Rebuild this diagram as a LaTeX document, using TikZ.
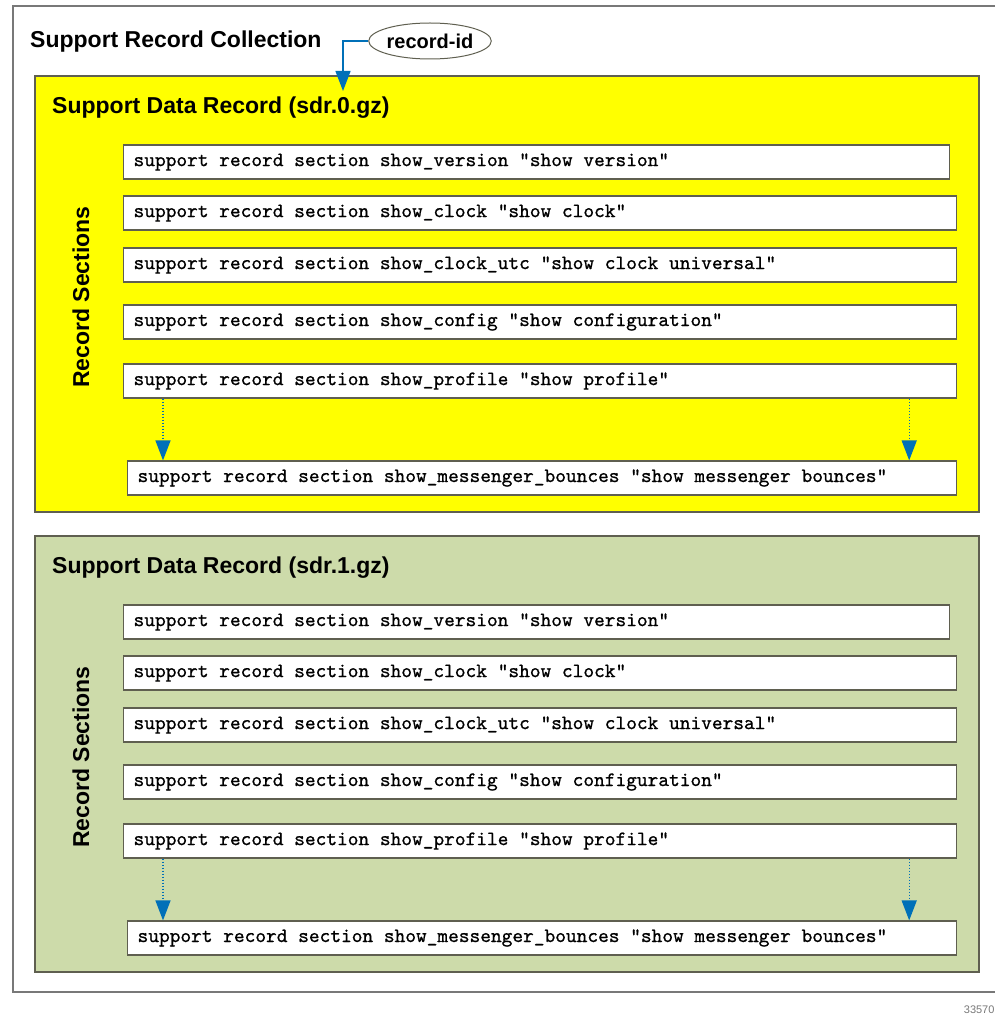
\documentclass[tikz,border=0pt]{standalone}
\usepackage{fontspec}
\setmainfont{Liberation Sans}
\newfontfamily\sectmono{lmmono10-regular.otf}[FakeBold=0.8]
\usetikzlibrary{shapes.geometric,arrows.meta}
\definecolor{sdryellow}{RGB}{255,255,0}
\definecolor{sdrgreen}{RGB}{205,219,170}
\definecolor{linkblue}{RGB}{0,112,184}
\definecolor{boxline}{RGB}{95,95,80}
\definecolor{framegray}{RGB}{120,120,120}

\begin{document}
\begin{tikzpicture}[x=1pt, y=-1pt,
		heading/.style={font=\fontsize{23}{27}\selectfont\bfseries, anchor=west, inner sep=0pt},
		recbox/.style={draw=boxline, line width=1.2pt, minimum width=944pt, minimum height=436pt, inner sep=0pt},
		section/.style={draw=boxline, line width=1.2pt, fill=white, anchor=west, minimum height=34pt, inner xsep=10pt, inner ysep=0pt, align=left, font=\sectmono\fontsize{20.4}{22}\selectfont, execute at begin node={\spaceskip=0.525em\relax}},
		link/.style={linkblue, line width=1.3pt, -{Triangle[length=20pt, width=15pt]}},
		dots/.style={dash pattern=on 1.5pt off 1.5pt}]
		\useasboundingbox (0,0) rectangle (995,1019);

		% Frame
		\draw[framegray, line width=1.2pt] (995,6) -- (13,6) -- (13,992) -- (995,992);

		% Title
		\node[heading] (title) at (30,42) {Support Record Collection};
		\node[draw=boxline, line width=1pt, ellipse, minimum width=115pt, minimum height=36pt, inner sep=0pt, font=\fontsize{20}{24}\selectfont\bfseries] (rid) at (430,41) {record-id};
		\node[font=\fontsize{11}{13}\selectfont, text=framegray, anchor=east] (fig) at (998,1010) {33570};

		% Records
		\foreach \rec/\fillc/\off in {0/sdryellow/0, 1/sdrgreen/460}
			{
				\node[recbox, fill=\fillc] (sdr\rec) at (507,294+\off) {};
				\node[heading] (head\rec) at (52,108+\off) {Support Data Record (sdr.\rec.gz)};
				\node[heading, rotate=90, anchor=center] (secs\rec) at (81,297+\off) {Record Sections};
				\node[section, text width=806pt] (ver\rec) at (123,162+\off) {support record section show\_version “show version”};
				\node[section, text width=813pt] (clk\rec) at (123,213+\off) {support record section show\_clock “show clock”};
				\node[section, text width=813pt] (utc\rec) at (123,265+\off) {support record section show\_clock\_utc “show clock universal”};
				\node[section, text width=813pt] (cfg\rec) at (123,322+\off) {support record section show\_config “show configuration”};
				\node[section, text width=813pt] (prof\rec) at (123,381+\off) {support record section show\_profile “show profile”};
				\node[section, text width=809pt] (msg\rec) at (127,478+\off) {support record section show\_messenger\_bounces “show messenger bounces”};

				% Edges
				\draw[link, dots] ([xshift=40pt]prof\rec.south west) -- ([xshift=40pt]prof\rec.south west |- msg\rec.north);
				\draw[link, dots] ([xshift=-48pt]prof\rec.south east) -- ([xshift=-48pt]prof\rec.south east |- msg\rec.north);
			}

		\coordinate (ridtip) at (343,91);
		\draw[link] (rid.west) -| (ridtip);
	\end{tikzpicture}
\end{document}
